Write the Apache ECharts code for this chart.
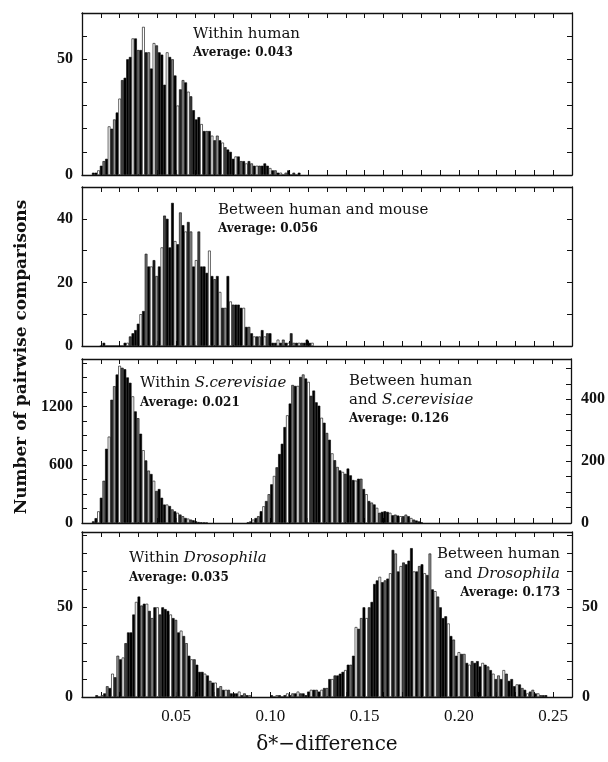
<!DOCTYPE html>
<html>
<head>
<meta charset="utf-8">
<script src="https://cdn.jsdelivr.net/npm/echarts@6/dist/echarts.min.js"></script>
<style>
html, body { margin: 0; padding: 0; background: #fff; }
#chart { width: 608px; height: 762px; }
</style>
</head>
<body>
<div id="chart"></div>
<script>
// histogram bin width, each series gives its first bin centre + counts
const BIN = 0.0014;

const withinHumanStart = 0.0060;
const withinHuman = [1,1,2,4,6,7,21,20,24,27,33,41,42,50,51,59,59,54,54,64,53,53,46,57,56,53,52,39,53,51,
  50,43,30,37,41,40,36,34,28,24,25,22,19,19,19,17,15,17,15,14,12,11,10,7,8,8,6,6,5,6,
  5,4,4,4,4,5,4,3,2,2,1,1,0,1,2,0,1,0,1];

const humanMouseStart = 0.0102;
const humanMouse = [0,1,0,0,0,0,0,0,0,1,1,3,4,5,7,10,11,29,25,25,27,22,25,31,41,40,31,45,33,32,
  42,38,36,39,36,25,27,36,25,25,23,30,22,21,22,17,12,12,22,14,13,13,13,12,12,6,6,4,3,3,
  3,5,3,4,4,1,1,2,1,2,1,1,4,1,1,1,1,1,2,1,1];

const withinYeastStart = 0.0060;
const withinYeast = [17,50,120,260,435,765,890,1270,1410,1530,1620,1600,1585,1500,1445,1305,1150,1080,920,750,
  645,540,505,435,330,350,260,190,190,175,140,120,105,87,70,52,45,35,28,17,10,7,4,2];

const humanYeastStart = 0.0882;
const humanYeast = [2,5,11,16,22,38,54,71,93,125,152,180,223,256,310,348,386,446,443,443,
  472,480,467,456,411,428,390,379,340,324,291,269,225,203,181,170,165,159,176,154,
  139,137,143,143,110,93,71,66,60,49,33,36,38,36,33,25,27,24,22,22,27,22,16,11,8,5,2];

const withinFlyStart = 0.0078;
const withinFly = [1,0,1,2,6,5,13,11,23,21,22,30,36,36,46,53,56,51,52,52,48,44,50,50,46,50,49,48,46,44,
  43,36,37,34,30,23,21,21,18,14,14,13,12,9,8,8,5,6,4,4,4,2,2,2,3,1,2,1,1];

const humanFlyStart = 0.1006;
const humanFly = [1,0,1,1,0,1,2,1,2,2,3,2,2,1,3,4,4,4,3,4,5,5,
  10,10,12,12,13,14,15,18,18,23,39,38,44,50,44,50,53,63,65,67,
  64,65,66,69,82,80,70,73,75,74,76,83,70,70,73,74,69,68,80,60,
  59,56,50,44,45,41,34,32,23,25,24,24,19,18,20,19,20,17,19,18,
  17,15,13,10,12,10,15,13,9,10,6,7,7,5,4,2,3,4,2,2,1,1,1];

// axis scales and tick labels per panel
const xTickLabels = [0.05, 0.10, 0.15, 0.20, 0.25];
const leftMax = [70, 50, 1690, 92];
const leftStep = [10, 10, 150, 10];
const leftLabels = [[0, 50], [0, 20, 40], [0, 600, 1200], [0, 50]];
const rightMax = [70, 50, 530, 92];
const rightStep = [10, 10, 50, 10];
const rightLabels = [[], [], [0, 200, 400], [0, 50]];

function bins(start, counts) {
  return counts.map(function (c, i) { return [+(start + i * BIN).toFixed(4), c]; });
}

const panelTops = [13, 187, 359, 532];
const panelHeights = [162, 159, 164, 165];

let fills = ["#000", "#000", "#fff", "#000", "#777", "#000", "#fff", "#222", "#999", "#000", "#fff", "#444", "#000"];
let axisColor = "#111";
let tickFont = { fontFamily: "Liberation Serif", fontWeight: "bold", fontSize: 16, color: "#111" };

let grids = [], xAxes = [], yAxes = [], series = [];

for (let i = 0; i < 4; i++) {
  grids.push({ left: 82, right: 36, top: panelTops[i], height: panelHeights[i] });
  // bottom x
  xAxes.push({
    type: "value", gridIndex: i, min: 0, max: 0.26, interval: 0.01, position: "bottom",
    axisLine: { onZero: false, lineStyle: { color: axisColor, width: 1.3 } },
    axisTick: { inside: true, length: 5, lineStyle: { color: axisColor } },
    splitLine: { show: false },
    axisLabel: {
      show: i === 3, margin: 11,
      fontFamily: "Liberation Serif", fontSize: 17, color: "#111",
      formatter: function (v) {
        return xTickLabels.some(function (t) { return Math.abs(t - v) < 1e-6; }) ? v.toFixed(2) : "";
      },
    },
  });
  // top x (frame)
  xAxes.push({
    type: "value", gridIndex: i, min: 0, max: 0.26, interval: 0.01, position: "top",
    axisLine: { onZero: false, lineStyle: { color: axisColor, width: 1.3 } },
    axisTick: { inside: true, length: 5, lineStyle: { color: axisColor } },
    splitLine: { show: false }, axisLabel: { show: false },
  });
  let ll = leftLabels[i], rl = rightLabels[i];
  yAxes.push({
    type: "value", gridIndex: i, min: 0, max: leftMax[i], interval: leftStep[i], position: "left",
    axisLine: { show: true, onZero: false, lineStyle: { color: axisColor, width: 1.3 } },
    axisTick: { show: true, inside: true, length: 5, lineStyle: { color: axisColor } },
    splitLine: { show: false },
    axisLabel: Object.assign({ margin: 9, formatter: function (v) { return ll.indexOf(v) >= 0 ? String(v) : ""; } }, tickFont),
  });
  yAxes.push({
    type: "value", gridIndex: i, min: 0, max: rightMax[i], interval: rightStep[i], position: "right",
    axisLine: { show: true, onZero: false, lineStyle: { color: axisColor, width: 1.3 } },
    axisTick: { show: true, inside: true, length: 5, lineStyle: { color: axisColor } },
    splitLine: { show: false },
    axisLabel: Object.assign({ show: rl.length > 0, margin: 10, formatter: function (v) { return rl.indexOf(v) >= 0 ? String(v) : ""; } }, tickFont),
  });
}

function histSeries(data, panel, right) {
  return {
    type: "bar",
    xAxisIndex: panel * 2,
    yAxisIndex: panel * 2 + (right ? 1 : 0),
    data: data,
    barWidth: 2.7,
    barGap: "-100%",
    itemStyle: {
      borderColor: "#000",
      borderWidth: 0.6,
      color: function (p) { return fills[p.dataIndex % fills.length]; },
    },
  };
}

series.push(histSeries(bins(withinHumanStart, withinHuman), 0, false));
series.push(histSeries(bins(humanMouseStart, humanMouse), 1, false));
series.push(histSeries(bins(withinYeastStart, withinYeast), 2, false));
series.push(histSeries(bins(humanYeastStart, humanYeast), 2, true));
series.push(histSeries(bins(withinFlyStart, withinFly), 3, false));
series.push(histSeries(bins(humanFlyStart, humanFly), 3, true));

/* annotation text */
let rich = { i: { fontFamily: "DejaVu Serif", fontSize: 15, fontStyle: "italic", fill: "#111" } };
function label(x, y, text, avg, align) {
  return {
    type: "text", x: x, y: y, z: 10,
    style: {
      text: text, align: align || "left", verticalAlign: "middle", fill: "#111",
      fontFamily: "DejaVu Serif", fontSize: avg ? 12 : 15, fontWeight: avg ? "bold" : "normal",
      rich: rich,
    },
  };
}

let notes = [
  label(193, 34, "Within human"),
  label(193, 53, "Average: 0.043", true),
  label(218, 210, "Between human and mouse"),
  label(218, 229, "Average: 0.056", true),
  label(140, 383, "Within {i|S.cerevisiae}"),
  label(140, 403, "Average: 0.021", true),
  label(349, 381, "Between human"),
  label(349, 400, "and {i|S.cerevisiae}"),
  label(349, 419, "Average: 0.126", true),
  label(129, 558, "Within {i|Drosophila}"),
  label(129, 578, "Average: 0.035", true),
  label(560, 554, "Between human", false, "right"),
  label(560, 574, "and {i|Drosophila}", false, "right"),
  label(560, 593, "Average: 0.173", true, "right"),
  {
    type: "text", x: 22, y: 357, rotation: Math.PI / 2,
    style: {
      text: "Number of pairwise comparisons", align: "center", verticalAlign: "middle",
      fontFamily: "DejaVu Serif", fontSize: 17, fontWeight: "bold", fill: "#111",
    },
  },
  {
    type: "text", x: 327, y: 745,
    style: {
      text: "δ*−difference", align: "center", verticalAlign: "middle",
      fontFamily: "DejaVu Serif", fontSize: 20, fill: "#111",
    },
  },
];

let myChart = echarts.init(document.getElementById("chart"));
myChart.setOption({
  animation: false,
  backgroundColor: "#fff",
  grid: grids,
  xAxis: xAxes,
  yAxis: yAxes,
  series: series,
  graphic: notes,
});
</script>
</body>
</html>
